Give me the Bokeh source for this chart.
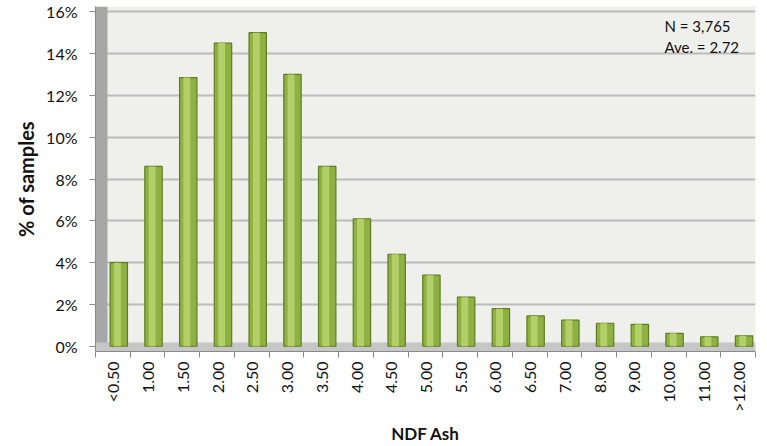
from bokeh.plotting import figure
from bokeh.models import (Range1d, LinearAxis, FixedTicker, PrintfTickFormatter,
                          BoxAnnotation, Label, ColumnDataSource)
from bokeh.transform import dodge
from bokeh.embed import file_html
from bokeh.resources import INLINE
from math import pi

categories = ["<0.50", "1.00", "1.50", "2.00", "2.50", "3.00", "3.50", "4.00", "4.50", "5.00",
              "5.50", "6.00", "6.50", "7.00", "8.00", "9.00", "10.00", "11.00", ">12.00"]
pct_samples = [4.0, 8.6, 12.85, 14.5, 15.0, 13.0, 8.6, 6.1, 4.4, 3.4,
               2.35, 1.8, 1.45, 1.25, 1.1, 1.05, 0.62, 0.45, 0.5]
y_ticks = [0, 2, 4, 6, 8, 10, 12, 14, 16]
note_lines = ["N = 3,765", "Ave. = 2.72"]

FONT = "Lato"
n = len(categories)
centers = [i + 0.5 for i in range(n)]
bounds = list(range(n + 1))

src = ColumnDataSource(dict(x=centers, val=pct_samples))

p = figure(width=763, height=446, x_range=Range1d(0, n),
           y_range=Range1d(-0.25, 16.25), output_backend="svg", toolbar_location=None,
           x_axis_location=None, y_axis_location="left",
           min_border_left=95, min_border_right=8, min_border_top=6, min_border_bottom=94)
p.background_fill_color = "#efefeb"
p.border_fill_color = "white"
p.outline_line_color = None

# walls (decor)
p.add_layout(BoxAnnotation(left=0, right=0.345, fill_color="#a7a7a7", fill_alpha=1,
                           line_color=None, level="underlay"))
p.add_layout(BoxAnnotation(top=0.18, fill_color="#c6c6c6", fill_alpha=1,
                           line_color=None, level="underlay"))

# bars (cylinder look: body + highlight)
p.vbar(x=dodge("x", 0.17), top="val", bottom=0, width=0.5, source=src,
       fill_color="#8fb043", line_color="#5e7d22", line_width=1.2)
p.vbar(x=dodge("x", 0.13), top="val", bottom=0, width=0.2, source=src,
       fill_color="#b2cf68", line_color=None)

# y axis
ya = p.yaxis[0]
ya.ticker = FixedTicker(ticks=y_ticks)
ya.formatter = PrintfTickFormatter(format="%d%%")
ya.axis_line_color = "#8a8a8a"
ya.major_tick_line_color = "#8a8a8a"
ya.major_tick_out = 6
ya.major_tick_in = 0
ya.minor_tick_line_color = None
ya.major_label_standoff = 12
ya.major_label_text_font = FONT
ya.major_label_text_font_size = "16px"
ya.major_label_text_color = "#111111"
ya.axis_label = "% of samples"
ya.axis_label_text_font = FONT
ya.axis_label_text_font_size = "20px"
ya.axis_label_text_font_style = "bold"
ya.axis_label_text_color = "#111111"
ya.axis_label_standoff = 5

# grid
p.xgrid.grid_line_color = None
p.ygrid.ticker = FixedTicker(ticks=y_ticks)
p.ygrid.grid_line_color = "#bcbcbc"
p.ygrid.grid_line_width = 2

# x axis: labels at centres, boundary ticks as minor ticks
xl = LinearAxis(ticker=FixedTicker(ticks=centers, minor_ticks=bounds),
                major_label_overrides={c: lab for c, lab in zip(centers, categories)},
                major_tick_line_color=None, major_tick_out=6, major_tick_in=0,
                minor_tick_line_color="#8a8a8a", minor_tick_out=6, minor_tick_in=0,
                axis_line_color="#8a8a8a",
                major_label_orientation=pi / 2, major_label_standoff=4,
                major_label_text_font=FONT, major_label_text_font_size="16px",
                major_label_text_color="#111111",
                axis_label="NDF Ash", axis_label_text_font=FONT,
                axis_label_text_font_size="17px", axis_label_text_font_style="bold",
                axis_label_text_color="#111111", axis_label_standoff=8)
p.add_layout(xl, "below")

# annotation
p.add_layout(Label(x=16.38, y=15.3, text=note_lines[0], text_font=FONT,
                   text_font_size="15px", text_color="#111111", text_baseline="middle"))
p.add_layout(Label(x=16.38, y=14.3, text=note_lines[1], text_font=FONT,
                   text_font_size="15px", text_color="#111111", text_baseline="middle"))

open("out.html", "w").write(file_html(p, INLINE))
